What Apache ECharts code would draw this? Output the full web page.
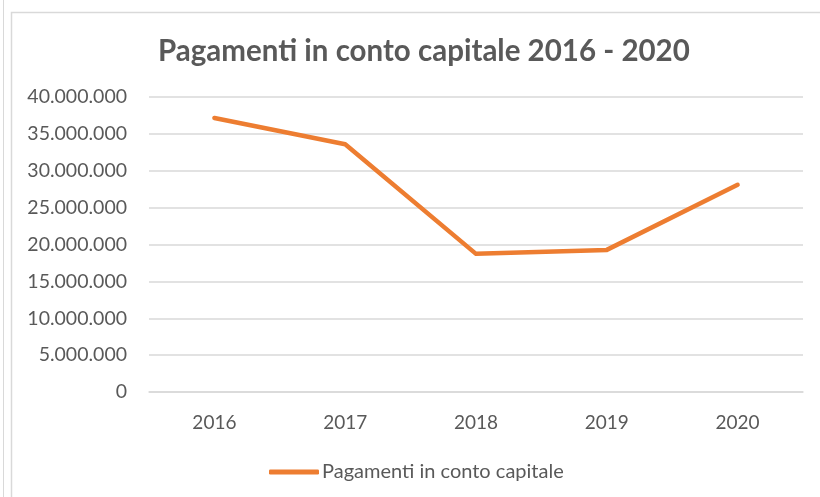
<!DOCTYPE html>
<html lang="it">
<head>
    <meta charset="UTF-8">
    <title>Pagamenti in conto capitale 2016 - 2020</title>
    <script src="https://cdn.jsdelivr.net/npm/echarts@6/dist/echarts.min.js"></script>
    <style>
        html, body { margin: 0; padding: 0; background: #fff; }
    </style>
</head>
<body>
    <div id="main" style="width: 820px;height: 497px"></div>

    <script type="text/javascript">
        var anni = ['2016', '2017', '2018', '2019', '2020'];
        var pagamenti = [37150000, 33600000, 18730000, 19270000, 28100000];
        var nomeSerie = 'Pagamenti in conto capitale';

        // formato italiano: punto come separatore delle migliaia
        function puntini(v) {
            return String(v).replace(/\B(?=(\d{3})+(?!\d))/g, '.');
        }

        var myChart = echarts.init(document.getElementById('main'));
        myChart.setOption({
            animation: false,
            textStyle: { fontFamily: 'Lato' },
            title: {
                text: 'Pagamenti in conto capitale 2016 - 2020',
                left: 153,
                top: 31,
                textStyle: { fontFamily: 'Lato', fontSize: 29.5, fontWeight: 'bold', color: '#595959' }
            },
            graphic: [
                { type: 'line', shape: { x1: 3.5, y1: 0, x2: 3.5, y2: 497 }, style: { stroke: '#d9d9d9', lineWidth: 1 } },
                { type: 'polyline', shape: { points: [[11.5, 497], [11.5, 12.5], [820, 12.5]] }, style: { stroke: '#d9d9d9', lineWidth: 1.5, fill: null } }
            ],
            legend: {
                left: 264,
                top: 457,
                icon: 'roundRect',
                itemWidth: 50,
                itemHeight: 5,
                itemGap: 10,
                itemStyle: { color: '#ED7D31' },
                textStyle: { fontFamily: 'Lato', fontSize: 20, color: '#595959', padding: [0, 0, 0, -2] },
                data: [nomeSerie]
            },
            grid: { left: 149, right: 17, top: 97, bottom: 105 },
            xAxis: {
                type: 'category',
                data: anni,
                axisLine: { lineStyle: { color: '#d9d9d9', width: 1.5 } },
                axisTick: { show: false },
                axisLabel: { margin: 21, fontFamily: 'Lato', fontSize: 19, color: '#595959' }
            },
            yAxis: {
                type: 'value',
                min: 0,
                max: 40000000,
                interval: 5000000,
                axisLine: { show: false },
                axisTick: { show: false },
                splitLine: { lineStyle: { color: '#d9d9d9', width: 1.5 } },
                axisLabel: { margin: 22, fontFamily: 'Lato', fontSize: 19.5, color: '#595959', formatter: puntini }
            },
            series: [{
                name: nomeSerie,
                type: 'line',
                data: pagamenti,
                symbol: 'none',
                lineStyle: { color: '#ED7D31', width: 4.5, cap: 'round', join: 'round' },
                itemStyle: { color: '#ED7D31' }
            }]
        });
    </script>
</body>
</html>
